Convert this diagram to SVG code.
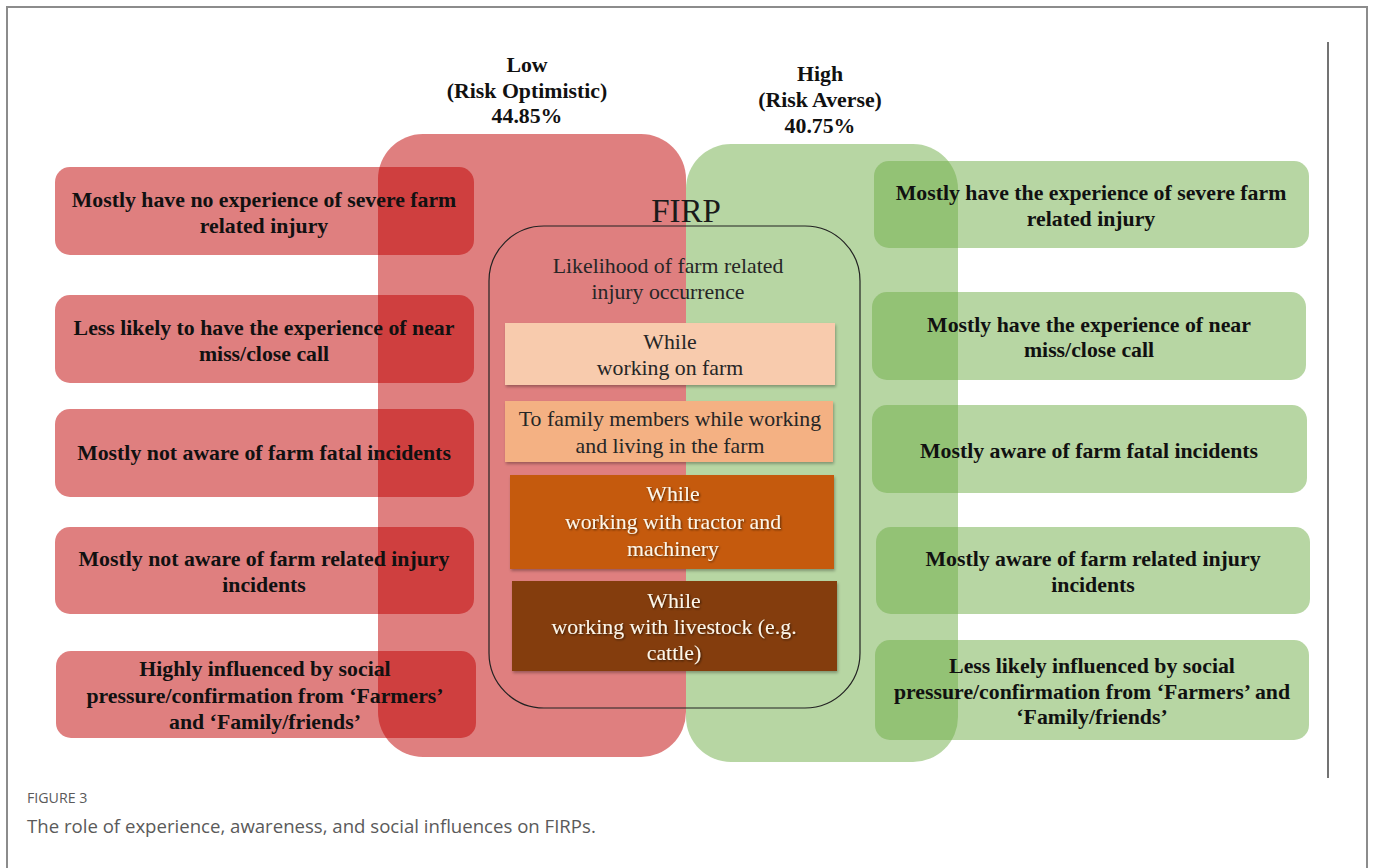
<svg xmlns="http://www.w3.org/2000/svg" width="1373" height="868" viewBox="0 0 1373 868">
<style>
.red{fill:#c00000;fill-opacity:0.5}
.green{fill:#70ad47;fill-opacity:0.5}
.side{font-family:"Liberation Serif","Times New Roman",serif;font-weight:bold;font-size:21.8px;fill:#111;text-anchor:middle}
.head{font-family:"Liberation Serif","Times New Roman",serif;font-weight:bold;font-size:21.8px;fill:#111;text-anchor:middle}
.mid{font-family:"Liberation Serif","Times New Roman",serif;font-size:21.8px;fill:#262626;text-anchor:middle}
.lt{font-family:"Liberation Serif","Times New Roman",serif;font-size:21.8px;fill:#fbf6ea;text-anchor:middle}
.cap{font-family:"Open Sans","Liberation Sans",sans-serif;fill:#5a5a5a}
</style>
<defs>
<filter id="sh" x="-5%" y="-10%" width="110%" height="130%">
<feDropShadow dx="1" dy="2" stdDeviation="1.5" flood-color="#000" flood-opacity="0.3"/>
</filter>
<filter id="tsh" x="-5%" y="-20%" width="110%" height="140%">
<feDropShadow dx="1" dy="1" stdDeviation="0.8" flood-color="#000" flood-opacity="0.6"/>
</filter>
</defs>
<rect width="1373" height="868" fill="#fff"/>
<path d="M7,868 V7 H1367 V868" fill="none" stroke="#8c8c8c" stroke-width="2"/>
<line x1="1328" y1="42" x2="1328" y2="778" stroke="#444" stroke-width="1.5"/>

<g id="col-low"><rect class="red" x="378" y="134" width="308" height="623" rx="45"/></g>
<g id="col-high"><rect class="green" x="686" y="144" width="272" height="618" rx="45"/></g>

<g id="head-low">
<text class="head" x="527" y="72">Low</text>
<text class="head" x="527" y="98">(Risk Optimistic)</text>
<text class="head" x="527" y="123">44.85%</text>
</g>
<g id="head-high">
<text class="head" x="820" y="81">High</text>
<text class="head" x="820" y="107">(Risk Averse)</text>
<text class="head" x="820" y="133">40.75%</text>
</g>

<g id="L1"><rect class="red" x="55" y="167" width="419" height="88" rx="15"/>
<text class="side" x="264" y="207">Mostly have no experience of severe farm</text>
<text class="side" x="264" y="233">related injury</text></g>
<g id="L2"><rect class="red" x="55" y="295" width="419" height="88" rx="15"/>
<text class="side" x="264" y="335">Less likely to have the experience of near</text>
<text class="side" x="264" y="361">miss/close call</text></g>
<g id="L3"><rect class="red" x="55" y="409" width="419" height="88" rx="15"/>
<text class="side" x="264" y="460">Mostly not aware of farm fatal incidents</text></g>
<g id="L4"><rect class="red" x="55" y="527" width="419" height="87" rx="15"/>
<text class="side" x="264" y="566">Mostly not aware of farm related injury</text>
<text class="side" x="264" y="592">incidents</text></g>
<g id="L5"><rect class="red" x="56" y="651" width="420" height="87" rx="15"/>
<text class="side" x="265" y="676">Highly influenced by social</text>
<text class="side" x="265" y="703">pressure/confirmation from ‘Farmers’</text>
<text class="side" x="265" y="729">and ‘Family/friends’</text></g>

<g id="R1"><rect class="green" x="874" y="161" width="435" height="87" rx="15"/>
<text class="side" x="1091" y="200">Mostly have the experience of severe farm</text>
<text class="side" x="1091" y="226">related injury</text></g>
<g id="R2"><rect class="green" x="872" y="292" width="434" height="88" rx="15"/>
<text class="side" x="1089" y="332">Mostly have the experience of near</text>
<text class="side" x="1089" y="357">miss/close call</text></g>
<g id="R3"><rect class="green" x="872" y="405" width="435" height="88" rx="15"/>
<text class="side" x="1089" y="458">Mostly aware of farm fatal incidents</text></g>
<g id="R4"><rect class="green" x="876" y="527" width="434" height="87" rx="15"/>
<text class="side" x="1093" y="566">Mostly aware of farm related injury</text>
<text class="side" x="1093" y="592">incidents</text></g>
<g id="R5"><rect class="green" x="875" y="640" width="434" height="100" rx="15"/>
<text class="side" x="1092" y="673">Less likely influenced by social</text>
<text class="side" x="1092" y="699">pressure/confirmation from ‘Farmers’ and</text>
<text class="side" x="1092" y="724">‘Family/friends’</text></g>

<g id="firp">
<text x="686" y="222" font-family="Liberation Serif, Times New Roman, serif" font-size="33" fill="#1a1a1a" text-anchor="middle">FIRP</text>
<rect x="489" y="226" width="371" height="482" rx="55" fill="none" stroke="#222" stroke-width="1.2"/>
<text class="mid" x="668" y="273">Likelihood of farm related</text>
<text class="mid" x="668" y="299">injury occurrence</text>
</g>
<g id="C1"><rect x="505" y="323" width="330" height="62" fill="#f8cbad" filter="url(#sh)"/>
<text class="mid" x="670" y="349">While</text>
<text class="mid" x="670" y="375">working on farm</text></g>
<g id="C2"><rect x="505" y="401" width="328" height="61" fill="#f4b183" filter="url(#sh)"/>
<text class="mid" x="670" y="426">To family members while working</text>
<text class="mid" x="670" y="453">and living in the farm</text></g>
<g id="C3"><rect x="510" y="475" width="324" height="94" fill="#c55a11" filter="url(#sh)"/>
<g filter="url(#tsh)">
<text class="lt" x="673" y="501">While</text>
<text class="lt" x="673" y="529">working with tractor and</text>
<text class="lt" x="673" y="556">machinery</text></g></g>
<g id="C4"><rect x="512" y="581" width="325" height="90" fill="#843c0c" filter="url(#sh)"/>
<g filter="url(#tsh)">
<text class="lt" x="674" y="608">While</text>
<text class="lt" x="674" y="634">working with livestock (e.g.</text>
<text class="lt" x="674" y="660">cattle)</text></g></g>

<g id="connectors"></g>

<g id="caption">
<text class="cap" x="27" y="803" font-size="14.2">FIGURE 3</text>
<text class="cap" x="27" y="833" font-size="18.6">The role of experience, awareness, and social influences on FIRPs.</text>
</g>
</svg>
